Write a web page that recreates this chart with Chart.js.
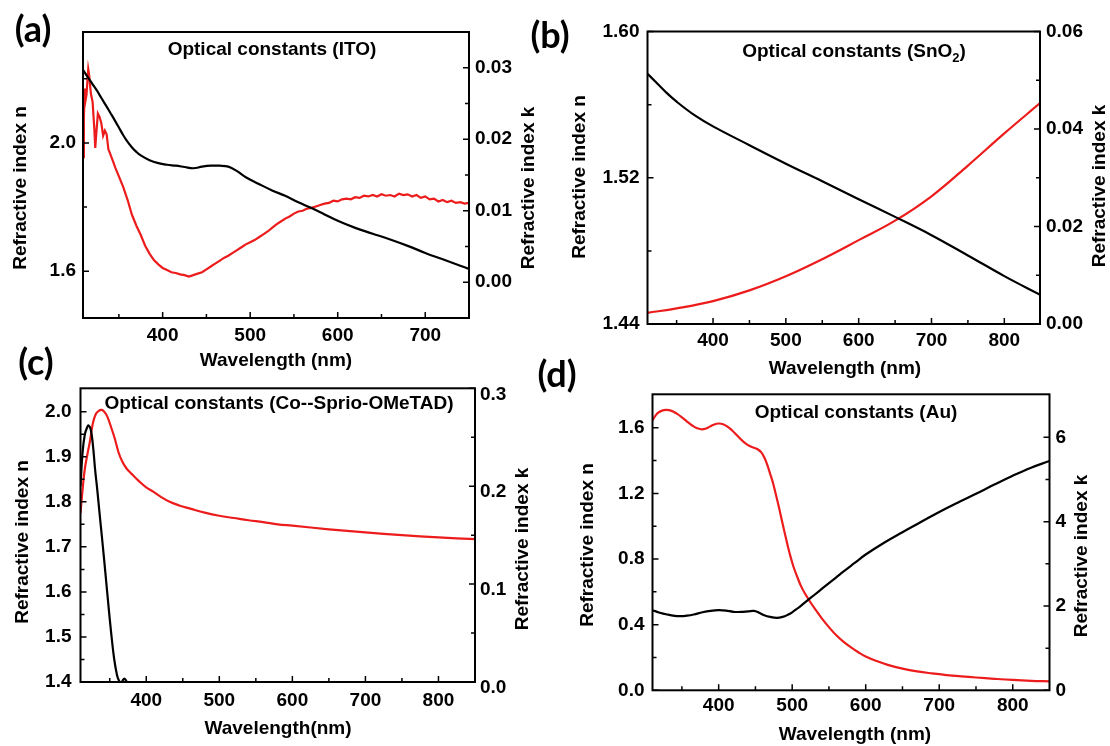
<!DOCTYPE html>
<html>
<head>
<meta charset="utf-8">
<script src="https://cdn.jsdelivr.net/npm/chart.js@4.4.1/dist/chart.umd.min.js"></script>
<style>
  html, body { margin: 0; background: #fff; }
  #wrap { position: relative; width: 1110px; height: 746px; }
  #wrap canvas { position: absolute; left: 0; top: 0; }
</style>
</head>
<body>
<div id="wrap">
  <canvas id="chartA" width="1110" height="746"></canvas>
  <canvas id="chartB" width="1110" height="746"></canvas>
  <canvas id="chartC" width="1110" height="746"></canvas>
  <canvas id="chartD" width="1110" height="746"></canvas>
</div>
<script>
// ---- ITO ----
const itoNWl = [309, 315, 320, 325, 330, 335, 340, 345, 350, 355, 360, 365, 370, 375, 385, 395, 405, 415, 425, 435, 445, 455, 465, 475, 485, 495, 510, 525, 540, 555, 570, 585, 600, 620, 640, 660, 680, 700, 720, 740, 750];
const itoN = [2.228, 2.203, 2.183, 2.163, 2.140, 2.118, 2.095, 2.072, 2.048, 2.024, 2.003, 1.986, 1.972, 1.961, 1.946, 1.937, 1.932, 1.929, 1.925, 1.921, 1.926, 1.929, 1.929, 1.926, 1.912, 1.893, 1.872, 1.852, 1.835, 1.815, 1.797, 1.777, 1.757, 1.735, 1.717, 1.699, 1.679, 1.657, 1.637, 1.617, 1.607];
const itoKWl = [309, 310, 311, 312, 313, 315, 316, 318, 320, 322, 323, 324, 326, 328, 330, 332, 334, 336, 338, 340, 343, 346, 350, 355, 360, 365, 370, 375, 380, 385, 390, 395, 400, 405, 410, 415, 420, 425, 430, 435, 440, 445, 450, 455, 460, 465, 470, 475, 480, 485, 490, 495, 500, 505, 510, 515, 520, 525, 530, 535, 540, 545, 550, 555, 560, 565, 570, 575, 580, 585, 590, 595, 600, 605, 610, 615, 620, 625, 630, 635, 640, 645, 650, 655, 660, 665, 670, 675, 680, 685, 690, 695, 700, 705, 710, 715, 720, 725, 730, 735, 740, 745, 750];
const itoK = [0.0175, 0.0230, 0.0271, 0.0255, 0.0262, 0.0298, 0.0290, 0.0264, 0.0252, 0.0213, 0.0188, 0.0205, 0.0236, 0.0231, 0.0222, 0.0205, 0.0212, 0.0207, 0.0186, 0.0180, 0.0170, 0.0160, 0.0148, 0.0133, 0.0115, 0.0094, 0.0079, 0.0066, 0.0051, 0.0040, 0.0031, 0.0025, 0.0020, 0.0017, 0.0014, 0.0013, 0.0011, 0.0010, 0.0008, 0.0010, 0.0012, 0.0014, 0.0018, 0.0022, 0.0026, 0.0030, 0.0034, 0.0037, 0.0041, 0.0045, 0.0049, 0.0053, 0.0056, 0.0059, 0.0063, 0.0067, 0.0071, 0.0076, 0.0081, 0.0085, 0.0089, 0.0092, 0.0096, 0.0099, 0.0100, 0.0103, 0.0104, 0.0106, 0.0108, 0.0110, 0.0111, 0.0114, 0.0113, 0.0116, 0.0117, 0.0116, 0.0119, 0.0118, 0.0121, 0.0120, 0.0122, 0.0120, 0.0123, 0.0121, 0.0122, 0.0120, 0.0124, 0.0122, 0.0123, 0.0120, 0.0122, 0.0118, 0.0120, 0.0116, 0.0117, 0.0113, 0.0115, 0.0112, 0.0114, 0.0111, 0.0112, 0.0110, 0.0111];
const itoXTicks = [400, 500, 600, 700];
const itoXMinor = [350, 450, 550, 650];
const itoNTicks = [1.6, 2.0];
const itoNMinor = [1.8, 2.2];
const itoKTicks = [0, 0.01, 0.02, 0.03];
const itoKMinor = [0.005, 0.015, 0.025];

// ---- SnO2 ----
const snoNWl = [310, 320, 335, 350, 375, 400, 450, 500, 550, 600, 650, 700, 750, 800, 849];
const snoN = [1.5769, 1.5729, 1.5669, 1.5616, 1.5541, 1.5481, 1.5378, 1.5277, 1.5181, 1.5083, 1.4986, 1.4886, 1.4775, 1.4662, 1.4560];
const snoKWl = [310, 350, 400, 450, 500, 550, 600, 650, 700, 750, 800, 849];
const snoK = [0.0023, 0.0032, 0.0047, 0.0069, 0.0098, 0.0133, 0.0172, 0.0212, 0.0262, 0.0325, 0.0391, 0.0453];
const snoNTicks = [1.44, 1.52, 1.60];
const snoNMinor = [1.48, 1.56];
const snoKTicks = [0, 0.02, 0.04, 0.06];
const snoKMinor = [0.01, 0.03, 0.05];

// ---- Co-spiro ----
const spiroNWl = [310, 313, 316, 320, 323, 327, 331, 335, 339, 343, 347, 352, 357, 362, 367, 373, 380, 390, 400, 410, 420, 432, 445, 460, 480, 500, 520, 540, 560, 580, 600, 650, 700, 750, 800, 850];
const spiroN = [1.775, 1.830, 1.874, 1.910, 1.935, 1.975, 1.995, 2.002, 2.004, 1.999, 1.988, 1.965, 1.940, 1.910, 1.890, 1.874, 1.862, 1.846, 1.832, 1.822, 1.811, 1.800, 1.792, 1.785, 1.776, 1.769, 1.764, 1.759, 1.755, 1.750, 1.747, 1.739, 1.732, 1.726, 1.721, 1.717];
const spiroKWl = [310, 313, 316, 319, 321, 324, 327, 330, 333, 336, 340, 344, 348, 352, 356, 360, 363, 366, 368, 370, 372, 374, 377];
const spiroK = [0.200, 0.236, 0.253, 0.260, 0.262, 0.258, 0.242, 0.217, 0.196, 0.173, 0.143, 0.112, 0.080, 0.050, 0.024, 0.007, 0.001, -0.001, 0.002, 0.0035, 0.002, -0.001, -0.006];
const spiroNTicks = [1.4, 1.5, 1.6, 1.7, 1.8, 1.9, 2.0];
const spiroNMinor = [1.45, 1.55, 1.65, 1.75, 1.85, 1.95];
const spiroKTicks = [0, 0.1, 0.2, 0.3];
const spiroKMinor = [0.05, 0.15, 0.25];

// ---- Au ----
const auNWl = [310, 316, 322, 329, 336, 343, 350, 357, 364, 370, 376, 382, 388, 394, 400, 406, 412, 418, 424, 430, 436, 442, 448, 453, 458, 462, 466, 470, 474, 478, 482, 486, 490, 494, 498, 502, 507, 512, 518, 525, 532, 540, 550, 560, 570, 580, 590, 600, 615, 630, 650, 670, 690, 710, 730, 750, 775, 800, 825, 850];
const auN = [1.645, 1.686, 1.703, 1.709, 1.703, 1.686, 1.664, 1.638, 1.614, 1.598, 1.591, 1.594, 1.607, 1.620, 1.626, 1.622, 1.607, 1.585, 1.558, 1.530, 1.506, 1.489, 1.478, 1.469, 1.450, 1.420, 1.375, 1.320, 1.262, 1.190, 1.115, 1.035, 0.955, 0.880, 0.810, 0.750, 0.690, 0.635, 0.585, 0.535, 0.490, 0.440, 0.385, 0.335, 0.295, 0.262, 0.232, 0.206, 0.178, 0.155, 0.132, 0.115, 0.103, 0.093, 0.085, 0.078, 0.070, 0.063, 0.058, 0.055];
const auKWl = [310, 320, 330, 340, 348, 357, 366, 378, 389, 400, 410, 420, 430, 440, 448, 455, 462, 470, 479, 487, 494, 500, 507, 515, 525, 535, 547, 560, 570, 585, 600, 625, 650, 675, 700, 725, 750, 775, 800, 825, 850];
const auK = [1.90, 1.84, 1.797, 1.765, 1.757, 1.77, 1.797, 1.85, 1.884, 1.90, 1.89, 1.862, 1.858, 1.872, 1.884, 1.84, 1.78, 1.74, 1.718, 1.74, 1.79, 1.85, 1.94, 2.05, 2.19, 2.33, 2.50, 2.68, 2.82, 3.02, 3.22, 3.50, 3.75, 3.99, 4.23, 4.45, 4.66, 4.88, 5.09, 5.28, 5.44];
const auNTicks = [0, 0.4, 0.8, 1.2, 1.6];
const auNMinor = [0.2, 0.6, 1.0, 1.4];
const auKTicks = [0, 2, 4, 6];
const auKMinor = [1, 3, 5];

const wlTicks = [400, 500, 600, 700, 800];
const wlMinor = [350, 450, 550, 650, 750];

const RED = '#ec1c1c';
const BLACK = '#000000';
const FONT = '"Liberation Sans", Arial, sans-serif';
const W = 1110, H = 746, SIDE = 45, FOOT = 30;

// frame, inward tick marks and all the panel text
function deco(p) {
  return {
    id: 'deco',
    afterDraw(chart) {
      const { ctx, chartArea: a, scales } = chart;
      ctx.save();
      ctx.strokeStyle = '#000';
      ctx.lineWidth = 1.5;
      ctx.beginPath();
      const bottom = (v, len) => { const x = scales.x.getPixelForValue(v); ctx.moveTo(x, a.bottom); ctx.lineTo(x, a.bottom - len); };
      const left = (v, len) => { const y = scales.y.getPixelForValue(v); ctx.moveTo(a.left, y); ctx.lineTo(a.left + len, y); };
      const right = (v, len) => { const y = scales.y2.getPixelForValue(v); ctx.moveTo(a.right, y); ctx.lineTo(a.right - len, y); };
      p.x.major.forEach(v => bottom(v, 6));
      p.x.minor.forEach(v => bottom(v, 4));
      p.y.major.forEach(v => left(v, 6));
      p.y.minor.forEach(v => left(v, 4));
      p.y2.major.forEach(v => right(v, 6));
      p.y2.minor.forEach(v => right(v, 4));
      ctx.stroke();
      ctx.lineWidth = 2;
      ctx.strokeRect(a.left, a.top, a.right - a.left, a.bottom - a.top);

      ctx.fillStyle = '#000';
      ctx.textBaseline = 'middle';
      ctx.textAlign = 'center';
      ctx.font = 'bold 36px Lato';
      ctx.fillText(p.tag.text, p.tag.x, p.tag.y);

      ctx.font = 'bold 19px ' + FONT;
      ctx.fillText(p.xTitle.text, p.xTitle.x, p.xTitle.y);
      [p.yTitle, p.y2Title].forEach(t => {
        ctx.save();
        ctx.translate(t.x, t.y);
        ctx.rotate(-Math.PI / 2);
        ctx.fillText(t.text, 0, 0);
        ctx.restore();
      });

      // inner heading, with optional subscript pieces
      const parts = p.heading.parts;
      const widths = parts.map(([s, sub]) => {
        ctx.font = 'bold ' + (sub ? 13 : 19) + 'px ' + FONT;
        return ctx.measureText(s).width;
      });
      let x = p.heading.x - widths.reduce((s, w) => s + w, 0) / 2;
      ctx.textAlign = 'left';
      parts.forEach(([s, sub], i) => {
        ctx.font = 'bold ' + (sub ? 13 : 19) + 'px ' + FONT;
        ctx.fillText(s, x, p.heading.y + (sub ? 6 : 0));
        x += widths[i];
      });
      ctx.restore();
    }
  };
}

function makePanel(id, p) {
  const font = { family: FONT, size: 19, weight: 'bold' };
  const yScale = (s, pos) => ({
    type: 'linear', position: pos, min: s.min, max: s.max,
    grid: { display: false, drawTicks: false }, border: { display: false },
    afterBuildTicks: ax => { ax.ticks = s.major.map(v => ({ value: v })); },
    afterFit: ax => { ax.width = SIDE; },
    ticks: { font, color: '#000', padding: s.pad, labelOffset: s.shift || 0, autoSkip: false,
             callback: v => v.toFixed(s.digits) }
  });
  return new Chart(document.getElementById(id), {
    type: 'line',
    data: {
      datasets: p.series.map(s => ({
        data: s.x.map((x, i) => ({ x, y: s.y[i] })),
        yAxisID: s.axis,
        borderColor: s.color,
        borderWidth: 2.2,
        pointRadius: 0,
        tension: s.smooth ? 0.4 : 0
      }))
    },
    options: {
      responsive: false,
      animation: false,
      events: [],
      layout: { padding: { left: p.plot.left - SIDE, right: W - p.plot.right - SIDE, top: p.plot.top, bottom: H - p.plot.bottom - FOOT } },
      plugins: { legend: { display: false }, tooltip: { enabled: false } },
      scales: {
        x: {
          type: 'linear', position: 'bottom', min: p.x.min, max: p.x.max,
          grid: { display: false, drawTicks: false }, border: { display: false },
          afterBuildTicks: ax => { ax.ticks = p.x.major.map(v => ({ value: v })); },
          afterFit: ax => { ax.height = FOOT; },
          ticks: { font, color: '#000', padding: p.x.pad, maxRotation: 0, autoSkip: false, callback: v => String(v) }
        },
        y: yScale(p.y, 'left'),
        y2: yScale(p.y2, 'right')
      }
    },
    plugins: [deco(p)]
  });
}

makePanel('chartA', {
  plot: { left: 83, right: 469, top: 32, bottom: 318 },
  x: { min: 309, max: 750, major: itoXTicks, minor: itoXMinor, pad: 6 },
  y: { min: 1.454, max: 2.346, major: itoNTicks, minor: itoNMinor, digits: 1, pad: 7 },
  y2: { min: -0.005, max: 0.035, major: itoKTicks, minor: itoKMinor, digits: 2, pad: 6 },
  series: [
    { x: itoNWl, y: itoN, axis: 'y', color: BLACK, smooth: true },
    { x: itoKWl, y: itoK, axis: 'y2', color: RED, smooth: false }
  ],
  tag: { text: '(a)', x: 33, y: 30 },
  heading: { parts: [['Optical constants (ITO)', 0]], x: 272, y: 50 },
  xTitle: { text: 'Wavelength (nm)', x: 276, y: 361 },
  yTitle: { text: 'Refractive index n', x: 21, y: 188 },
  y2Title: { text: 'Refractive index k', x: 529, y: 188 }
});

makePanel('chartB', {
  plot: { left: 647.5, right: 1040, top: 31.5, bottom: 324 },
  x: { min: 310, max: 849, major: wlTicks, minor: wlMinor, pad: 5 },
  y: { min: 1.44, max: 1.60, major: snoNTicks, minor: snoNMinor, digits: 2, pad: 8 },
  y2: { min: 0, max: 0.06, major: snoKTicks, minor: snoKMinor, digits: 2, pad: 6 },
  series: [
    { x: snoNWl, y: snoN, axis: 'y', color: BLACK, smooth: true },
    { x: snoKWl, y: snoK, axis: 'y2', color: RED, smooth: true }
  ],
  tag: { text: '(b)', x: 550, y: 36 },
  heading: { parts: [['Optical constants (SnO', 0], ['2', 1], [')', 0]], x: 854, y: 52 },
  xTitle: { text: 'Wavelength (nm)', x: 845, y: 369 },
  yTitle: { text: 'Refractive index n', x: 580, y: 177 },
  y2Title: { text: 'Refractive index k', x: 1100, y: 186 }
});

makePanel('chartC', {
  plot: { left: 80.5, right: 475, top: 388.3, bottom: 682 },
  x: { min: 310, max: 850, major: wlTicks, minor: wlMinor, pad: 7 },
  y: { min: 1.4, max: 2.052, major: spiroNTicks, minor: spiroNMinor, digits: 1, pad: 9 },
  y2: { min: 0, max: 0.3, major: spiroKTicks, minor: spiroKMinor, digits: 1, pad: 5, shift: 6 },
  series: [
    { x: spiroKWl, y: spiroK, axis: 'y2', color: BLACK, smooth: true },
    { x: spiroNWl, y: spiroN, axis: 'y', color: RED, smooth: true }
  ],
  tag: { text: '(c)', x: 36, y: 363 },
  heading: { parts: [['Optical constants (Co--Sprio-OMeTAD)', 0]], x: 279, y: 404 },
  xTitle: { text: 'Wavelength(nm)', x: 278, y: 729 },
  yTitle: { text: 'Refractive index n', x: 23, y: 542 },
  y2Title: { text: 'Refractive index k', x: 523, y: 549 }
});

makePanel('chartD', {
  plot: { left: 652.5, right: 1049.5, top: 394.3, bottom: 690.3 },
  x: { min: 310, max: 850, major: wlTicks, minor: wlMinor, pad: 4 },
  y: { min: 0, max: 1.804, major: auNTicks, minor: auNMinor, digits: 1, pad: 8 },
  y2: { min: 0, max: 7.02, major: auKTicks, minor: auKMinor, digits: 0, pad: 6 },
  series: [
    { x: auKWl, y: auK, axis: 'y2', color: BLACK, smooth: true },
    { x: auNWl, y: auN, axis: 'y', color: RED, smooth: true }
  ],
  tag: { text: '(d)', x: 557, y: 375 },
  heading: { parts: [['Optical constants (Au)', 0]], x: 856, y: 413 },
  xTitle: { text: 'Wavelength (nm)', x: 855, y: 735 },
  yTitle: { text: 'Refractive index n', x: 588, y: 545 },
  y2Title: { text: 'Refractive index k', x: 1082, y: 556 }
});
</script>
</body>
</html>
